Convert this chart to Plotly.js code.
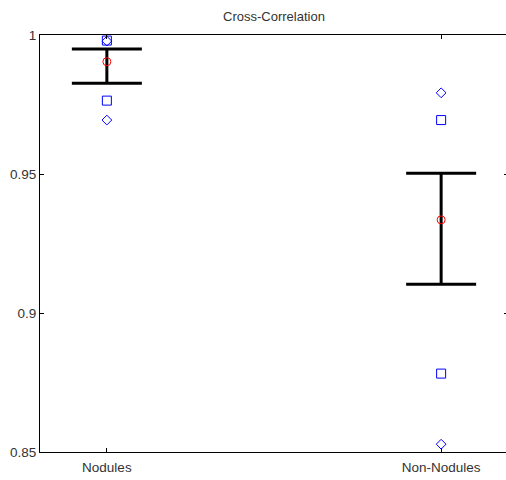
<!DOCTYPE html>
<html>
<head>
<meta charset="utf-8">
<script src="https://cdn.plot.ly/plotly-3.0.1.min.js"></script>
<style>
html,body{margin:0;padding:0;overflow:hidden;background:#fff;}
#chart{width:508px;height:480px;}
</style>
</head>
<body>
<div id="chart"></div>
<script>
// Data
var categories = ['Nodules', 'Non-Nodules'];
var catPos = [1, 2];
var meanVals = [0.9904, 0.9335];
var upperVals = [0.9950, 0.9503];
var lowerVals = [0.9826, 0.9103];
var squareVals = [[0.9980, 0.9764], [0.9694, 0.8782]];
var diamondVals = [[0.9978, 0.9694], [0.9792, 0.8528]];
var yTickVals = [0.85, 0.9, 0.95, 1];
var yTickText = ['0.85', '0.9', '0.95', '1'];

var sqX = [], sqY = [], dmX = [], dmY = [];
for (var i = 0; i < catPos.length; i++) {
  squareVals[i].forEach(function (v) { sqX.push(catPos[i]); sqY.push(v); });
  diamondVals[i].forEach(function (v) { dmX.push(catPos[i]); dmY.push(v); });
}
var errPlus = meanVals.map(function (m, i) { return upperVals[i] - m; });
var errMinus = meanVals.map(function (m, i) { return m - lowerVals[i]; });

var traces = [
  {
    x: catPos, y: meanVals, type: 'scatter', mode: 'markers',
    marker: {symbol: 'circle-open', size: 8, color: '#ff0000', line: {width: 1, color: '#ff0000'}},
    error_y: {type: 'data', symmetric: false, array: errPlus, arrayminus: errMinus,
      color: '#000000', thickness: 3, width: 35},
    hoverinfo: 'skip'
  },
  {
    x: sqX, y: sqY, type: 'scatter', mode: 'markers',
    marker: {symbol: 'square-open', size: 9, color: '#0000ff', line: {width: 1, color: '#0000ff'}},
    hoverinfo: 'skip'
  },
  {
    x: dmX, y: dmY, type: 'scatter', mode: 'markers',
    marker: {symbol: 'diamond-open', size: 7.5, color: '#0000ff', line: {width: 1, color: '#0000ff'}},
    hoverinfo: 'skip'
  }
];

var fontFam = '"Liberation Sans", Arial, sans-serif';
var layout = {
  width: 508, height: 480,
  margin: {l: 40, r: 0, t: 35, b: 28, pad: 0},
  paper_bgcolor: '#ffffff', plot_bgcolor: '#ffffff',
  showlegend: false,
  title: {text: 'Cross-Correlation', font: {family: fontFam, size: 13, color: '#333333'},
    x: 0.5, xref: 'paper', y: 0.965, yref: 'container', yanchor: 'middle'},
  xaxis: {
    range: [0.8, 2.2], tickvals: catPos, ticktext: categories,
    showgrid: false, zeroline: false, showline: true, linecolor: '#000000', linewidth: 1,
    mirror: 'ticks', ticks: 'inside', ticklen: 4, tickcolor: '#000000',
    ticklabelstandoff: 3,
    tickfont: {family: fontFam, size: 13.5, color: '#333333'}
  },
  yaxis: {
    range: [0.85, 1], tickvals: yTickVals, ticktext: yTickText,
    showgrid: false, zeroline: false, showline: true, linecolor: '#000000', linewidth: 1,
    mirror: 'ticks', ticks: 'inside', ticklen: 4, tickcolor: '#000000',
    tickfont: {family: fontFam, size: 13.5, color: '#333333'}
  }
};

Plotly.newPlot('chart', traces, layout, {displayModeBar: false, staticPlot: true});
</script>
</body>
</html>
